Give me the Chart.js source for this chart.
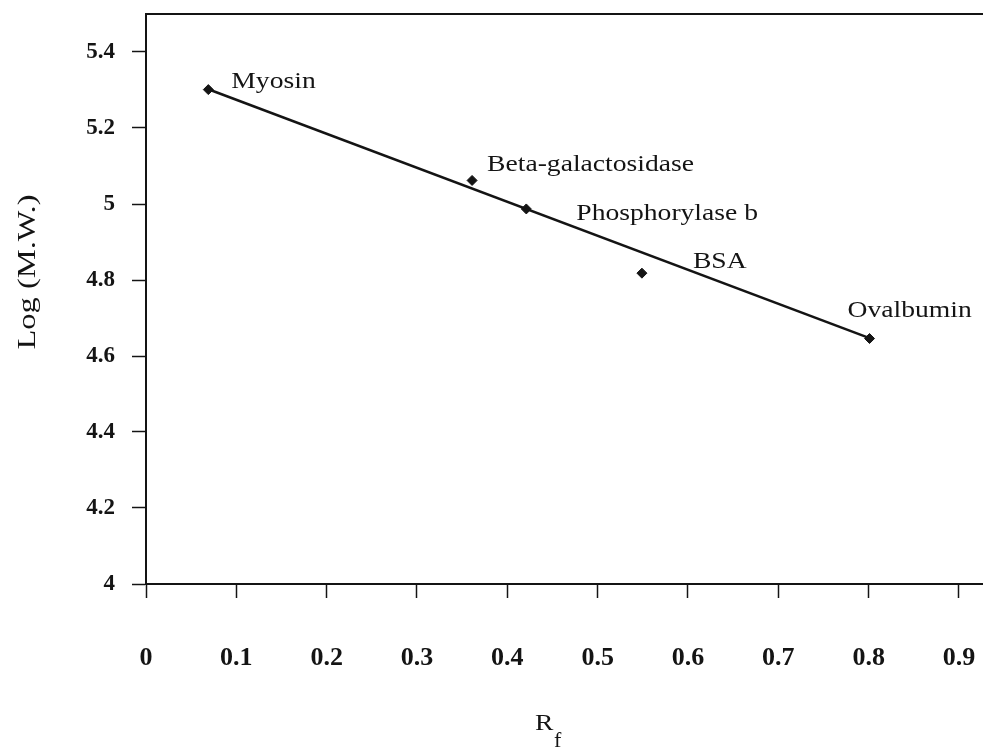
<!DOCTYPE html>
<html>
<head>
<meta charset="utf-8">
<script src="https://cdn.jsdelivr.net/npm/chart.js@4.4.1/dist/chart.umd.min.js"></script>
<style>
html,body{margin:0;padding:0;background:#ffffff;overflow:hidden}
canvas{display:block}
</style>
</head>
<body>
<canvas id="c" width="983" height="754"></canvas>
<script>
// ---- data ----
const proteins   = ['Myosin', 'Beta-galactosidase', 'Phosphorylase b', 'BSA', 'Ovalbumin'];
const rfValues   = [0.069, 0.361, 0.421, 0.549, 0.801];
const logMW      = [5.301, 5.062, 4.987, 4.818, 4.646];
const trendRf    = [0.069, 0.801];
const trendLogMW = [5.302, 4.647];
const xTickValues = [0, 0.1, 0.2, 0.3, 0.4, 0.5, 0.6, 0.7, 0.8, 0.9];
const xTickLabels = ['0', '0.1', '0.2', '0.3', '0.4', '0.5', '0.6', '0.7', '0.8', '0.9'];
const yTickValues = [4, 4.2, 4.4, 4.6, 4.8, 5, 5.2, 5.4];
const yTickLabels = ['4', '4.2', '4.4', '4.6', '4.8', '5', '5.2', '5.4'];
const xTitleMain = 'R';
const xTitleSub  = 'f';
const yTitle     = 'Log (M.W.)';

// ---- styling / placement (not data) ----
const SERIF = '"Liberation Serif", "Times New Roman", serif';
const INK = '#141414';
const labelOffsets = [[23, -2], [15, -9], [50, 11], [51, -5], [-22, -22]];

function drawStretched(ctx, text, x, y, font, sx, rot, align) {
  ctx.save();
  ctx.translate(x, y);
  if (rot) ctx.rotate(rot);
  ctx.scale(sx, 1);
  ctx.font = font;
  ctx.fillStyle = INK;
  ctx.textBaseline = 'alphabetic';
  ctx.textAlign = align || 'left';
  ctx.fillText(text, 0, 0);
  ctx.restore();
}

function zeroPadding(s) {
  s.paddingTop = 0; s.paddingBottom = 0; s.paddingLeft = 0; s.paddingRight = 0;
}

const textPlugin = {
  id: 'texts',
  afterDraw(chart) {
    const ctx = chart.ctx;
    const a = chart.chartArea;
    // top frame line
    ctx.save();
    ctx.strokeStyle = INK;
    ctx.lineWidth = 2;
    ctx.beginPath();
    ctx.moveTo(a.left, a.top);
    ctx.lineTo(a.right, a.top);
    ctx.stroke();
    ctx.restore();
    // point labels
    const meta = chart.getDatasetMeta(1);
    meta.data.forEach((pt, i) => {
      const off = labelOffsets[i];
      drawStretched(ctx, proteins[i], pt.x + off[0], pt.y + off[1], '24px ' + SERIF, 1.15);
    });
    // x title R_f
    const rx = a.left + 389, ry = a.bottom + 146;
    drawStretched(ctx, xTitleMain, rx, ry, '24px ' + SERIF, 1.15);
    drawStretched(ctx, xTitleSub, rx + 19, ry + 17, '20px ' + SERIF, 1.1);
    // y title
    drawStretched(ctx, yTitle, a.left - 111, (a.top + a.bottom) / 2 - 27, '26px ' + SERIF, 1.25, -Math.PI / 2, 'center');
  }
};

new Chart(document.getElementById('c'), {
  type: 'scatter',
  data: {
    datasets: [
      {
        label: 'trend',
        data: trendRf.map((x, i) => ({ x: x, y: trendLogMW[i] })),
        showLine: true,
        borderColor: INK,
        borderWidth: 2.5,
        pointRadius: 0,
        pointHoverRadius: 0,
        fill: false,
        order: 2
      },
      {
        label: 'proteins',
        data: rfValues.map((x, i) => ({ x: x, y: logMW[i] })),
        showLine: false,
        pointStyle: 'rectRot',
        pointRadius: 5,
        backgroundColor: INK,
        borderColor: INK,
        borderWidth: 1,
        order: 1
      }
    ]
  },
  options: {
    responsive: false,
    animation: false,
    events: [],
    layout: { autoPadding: false, padding: { top: 14, left: 0, right: 0, bottom: 0 } },
    plugins: { legend: { display: false }, tooltip: { enabled: false }, title: { display: false } },
    scales: {
      x: {
        type: 'linear',
        min: 0,
        max: 0.9266,
        afterBuildTicks: s => { s.ticks = xTickValues.map(v => ({ value: v })); },
        afterFit: s => { s.height = 170; zeroPadding(s); },
        ticks: {
          callback: (v, i) => xTickLabels[i],
          font: { family: SERIF, size: 26, weight: 'bold' },
          color: INK,
          padding: 45,
          maxRotation: 0,
          autoSkip: false
        },
        grid: { drawOnChartArea: false, drawTicks: true, tickLength: 14, tickColor: INK, tickWidth: 1.5 },
        border: { display: true, color: INK, width: 2 }
      },
      y: {
        type: 'linear',
        min: 4,
        max: 5.5,
        afterBuildTicks: s => { s.ticks = yTickValues.map(v => ({ value: v })); },
        afterFit: s => { s.width = 146; zeroPadding(s); },
        ticks: {
          callback: (v, i) => yTickLabels[i],
          font: { family: SERIF, size: 23, weight: 'bold' },
          color: INK,
          padding: 17,
          autoSkip: false
        },
        grid: { drawOnChartArea: false, drawTicks: true, tickLength: 14, tickColor: INK, tickWidth: 1.5 },
        border: { display: true, color: INK, width: 2 }
      }
    }
  },
  plugins: [textPlugin]
});
</script>
</body>
</html>
